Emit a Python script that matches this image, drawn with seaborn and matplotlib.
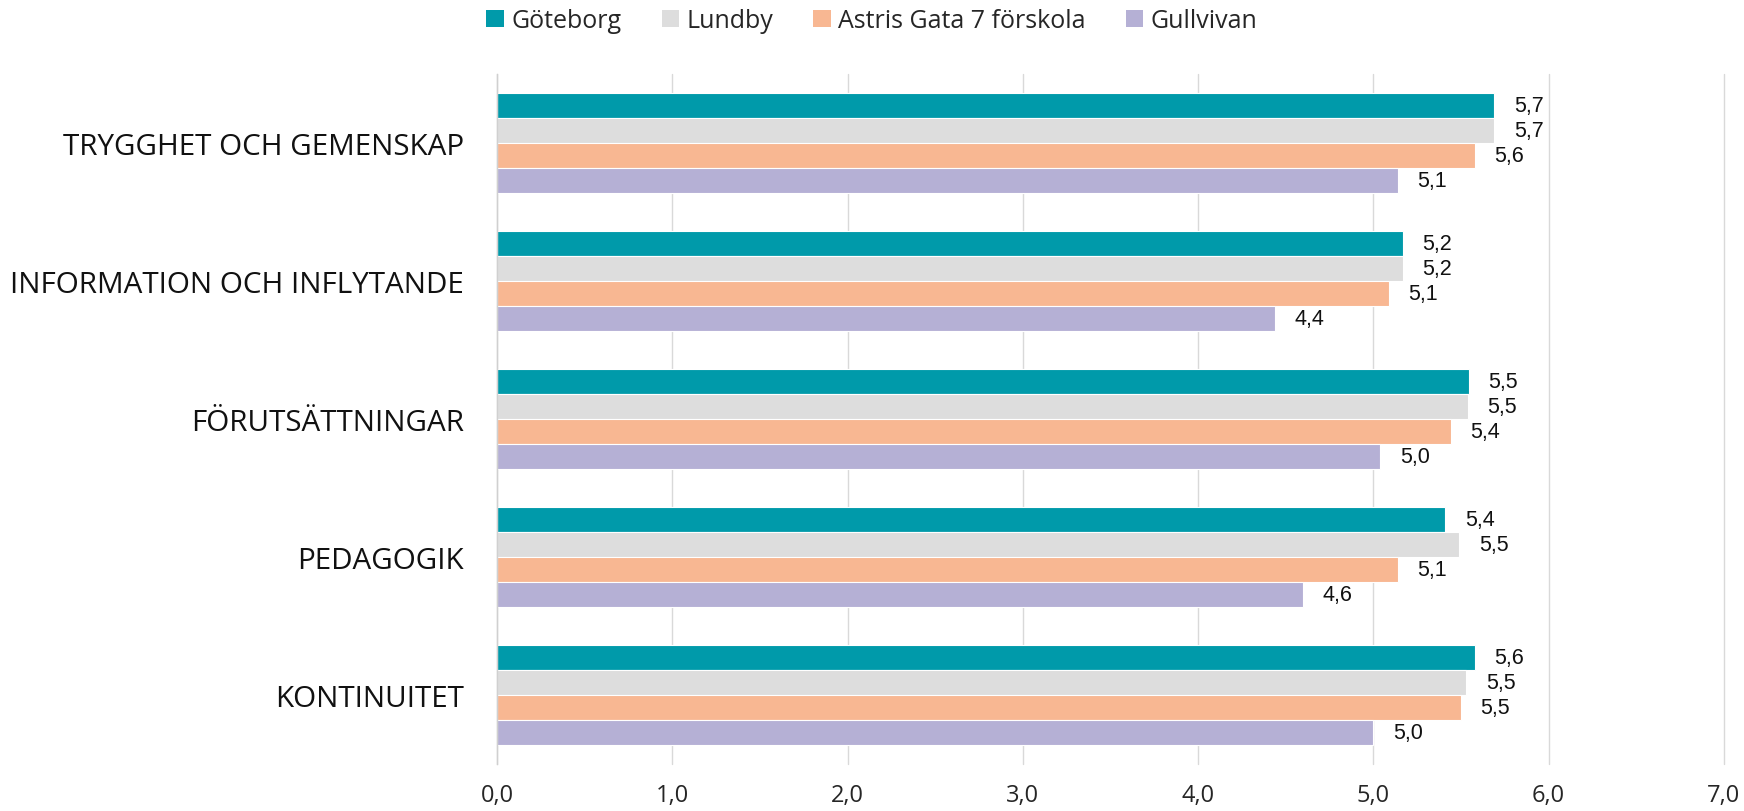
import matplotlib
matplotlib.use("Agg")
import matplotlib.pyplot as plt
import seaborn as sns
import pandas as pd
import numpy as np
from matplotlib.patches import Patch

categories = ["TRYGGHET OCH GEMENSKAP", "INFORMATION OCH INFLYTANDE",
              "FÖRUTSÄTTNINGAR", "PEDAGOGIK", "KONTINUITET"]
series_names = ["Göteborg", "Lundby", "Astris Gata 7 förskola", "Gullvivan"]
goteborg = [5.69, 5.17, 5.545, 5.41, 5.58]
lundby = [5.69, 5.17, 5.54, 5.49, 5.53]
astris = [5.58, 5.09, 5.44, 5.14, 5.50]
gullvivan = [5.14, 4.44, 5.04, 4.60, 5.00]
xticks = [0, 1, 2, 3, 4, 5, 6, 7]
colors = ["#009AAA", "#DDDDDD", "#F8B792", "#B5B0D5"]

sns.set_theme(style="white")
plt.rcParams["font.family"] = ["Liberation Sans", "DejaVu Sans"]

rows = []
for name, vals in zip(series_names, [goteborg, lundby, astris, gullvivan]):
    for c, v in zip(categories, vals):
        rows.append({"Kategori": c, "Serie": name, "Värde": v})
df = pd.DataFrame(rows)

fig = plt.figure(figsize=(17.44, 8.12), dpi=100)
ax = fig.add_axes([0.285, 0.0579, 0.7035, 0.8497])

sns.barplot(data=df, y="Kategori", x="Värde", hue="Serie", order=categories,
            hue_order=series_names, palette=colors, saturation=1, orient="h",
            width=0.725, edgecolor="white", linewidth=0.8, ax=ax, legend=False)

for cont in ax.containers:
    labels = [f"{v:.1f}".replace(".", ",") for v in cont.datavalues]
    ax.bar_label(cont, labels=labels, padding=14, fontsize=15.5,
                 family="Liberation Sans", color="#111111")

ax.set_xlim(0, 7)
ax.set_ylim(len(categories) - 0.5, -0.5)
ax.set_xticks(xticks)
ax.set_xticklabels([f"{t:.1f}".replace(".", ",") for t in xticks],
                   family="Open Sans", fontsize=17)
ax.xaxis.grid(True, color="#D9D9D9", linewidth=1)
for gl in ax.get_xgridlines():
    gl.set_clip_on(False)
ax.set_axisbelow(True)
ax.tick_params(axis="x", length=0, pad=14)
ax.tick_params(axis="y", which="major", length=0, pad=24)
ax.set_yticks(np.arange(-0.5, len(categories), 1.0), minor=True)
ax.tick_params(axis="y", which="minor", length=8, color="#D0D0D0", width=1)
for lab in ax.get_yticklabels():
    lab.set_family("Open Sans")
    lab.set_fontsize(21.3)
    lab.set_color("#111111")
ax.set_xlabel("")
ax.set_ylabel("")
for s in ["top", "right", "bottom"]:
    ax.spines[s].set_visible(False)
ax.spines["left"].set_color("#D0D0D0")
ax.spines["left"].set_linewidth(1)

handles = [Patch(facecolor=c, edgecolor="none") for c in colors]
fig.legend(handles, series_names, loc="center", bbox_to_anchor=(0.5, 0.973),
           ncol=4, frameon=False, prop={"family": "Open Sans", "size": 18},
           handlelength=0.7, handleheight=0.7, handletextpad=0.3, columnspacing=1.6)

fig.savefig("out.png", dpi=100)
